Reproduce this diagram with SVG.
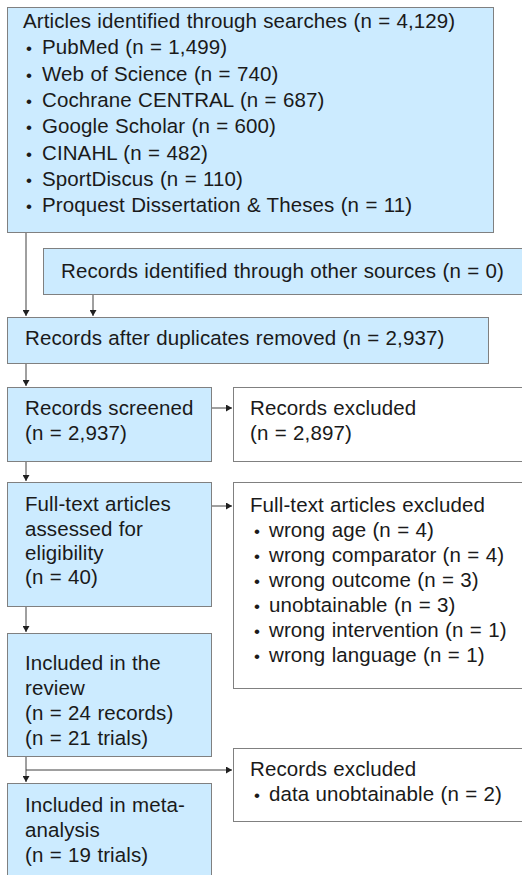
<svg xmlns="http://www.w3.org/2000/svg" width="522" height="875" viewBox="0 0 522 875">
<style>
.b{fill:#CCEBFF;stroke:#808080;stroke-width:1}
.w{fill:#FFFFFF;stroke:#808080;stroke-width:1}
text{font-family:"Liberation Sans",Arial,sans-serif;font-size:20.5px;fill:#1a1a1a;word-spacing:0.5px;letter-spacing:0.1px}
text.u{font-size:17px}
.c{stroke:#404040;stroke-width:1;fill:none}
</style>
<defs>
<marker id="ah" markerWidth="7" markerHeight="7" refX="6" refY="3.5" orient="auto" markerUnits="userSpaceOnUse">
<path d="M0,0 L6,3.5 L0,7 z" fill="#202020"/>
</marker>
</defs>
<rect width="522" height="875" fill="#FFFFFF"/>
<g id="connectors">
<line class="c" x1="26" y1="232" x2="26" y2="316" marker-end="url(#ah)"/>
<line class="c" x1="93" y1="294" x2="93" y2="316" marker-end="url(#ah)"/>
<line class="c" x1="26" y1="363" x2="26" y2="386" marker-end="url(#ah)"/>
<line class="c" x1="212" y1="408" x2="232" y2="408" marker-end="url(#ah)"/>
<line class="c" x1="26" y1="462" x2="26" y2="481" marker-end="url(#ah)"/>
<line class="c" x1="212" y1="506" x2="232" y2="506" marker-end="url(#ah)"/>
<line class="c" x1="26" y1="606" x2="26" y2="632" marker-end="url(#ah)"/>
<line class="c" x1="26" y1="756" x2="26" y2="782" marker-end="url(#ah)"/>
<line class="c" x1="26" y1="770" x2="232" y2="770" marker-end="url(#ah)"/>
</g>
<g id="n1">
<rect class="b" x="7.5" y="7.5" width="486" height="225"/>
<text x="23" y="28">Articles identified through searches (n = 4,129)</text>
<text class="u" x="26" y="54.3">•</text><text x="42" y="54.3">PubMed (n = 1,499)</text>
<text class="u" x="26" y="80.6">•</text><text x="42" y="80.6">Web of Science (n = 740)</text>
<text class="u" x="26" y="106.9">•</text><text x="42" y="106.9">Cochrane CENTRAL (n = 687)</text>
<text class="u" x="26" y="133.2">•</text><text x="42" y="133.2">Google Scholar (n = 600)</text>
<text class="u" x="26" y="159.5">•</text><text x="42" y="159.5">CINAHL (n = 482)</text>
<text class="u" x="26" y="185.8">•</text><text x="42" y="185.8">SportDiscus (n = 110)</text>
<text class="u" x="26" y="212">•</text><text x="42" y="212">Proquest Dissertation &amp; Theses (n = 11)</text>
</g>
<g id="n2">
<rect class="b" x="43.5" y="248.5" width="490" height="46"/>
<text x="61" y="278">Records identified through other sources (n = 0)</text>
</g>
<g id="n3">
<rect class="b" x="7.5" y="317.5" width="481" height="46"/>
<text x="25" y="345">Records after duplicates removed (n = 2,937)</text>
</g>
<g id="n4">
<rect class="b" x="7.5" y="387.5" width="204" height="74"/>
<text x="25" y="415">Records screened</text>
<text x="25" y="440">(n = 2,937)</text>
</g>
<g id="n5">
<rect class="w" x="233.5" y="387.5" width="300" height="74"/>
<text x="250" y="415">Records excluded</text>
<text x="250" y="440">(n = 2,897)</text>
</g>
<g id="n6">
<rect class="b" x="7.5" y="482.5" width="204" height="124"/>
<text x="25" y="511">Full-text articles</text>
<text x="25" y="536">assessed for</text>
<text x="25" y="560">eligibility</text>
<text x="25" y="584">(n = 40)</text>
</g>
<g id="n7">
<rect class="w" x="233.5" y="482.5" width="300" height="206"/>
<text x="250" y="512">Full-text articles excluded</text>
<text class="u" x="254" y="537">•</text><text x="269" y="537">wrong age (n = 4)</text>
<text class="u" x="254" y="562">•</text><text x="269" y="562">wrong comparator (n = 4)</text>
<text class="u" x="254" y="587">•</text><text x="269" y="587">wrong outcome (n = 3)</text>
<text class="u" x="254" y="612">•</text><text x="269" y="612">unobtainable (n = 3)</text>
<text class="u" x="254" y="637">•</text><text x="269" y="637">wrong intervention (n = 1)</text>
<text class="u" x="254" y="662">•</text><text x="269" y="662">wrong language (n = 1)</text>
</g>
<g id="n8">
<rect class="b" x="7.5" y="633.5" width="204" height="123"/>
<text x="25" y="670">Included in the</text>
<text x="25" y="695">review</text>
<text x="25" y="720">(n = 24 records)</text>
<text x="25" y="745">(n = 21 trials)</text>
</g>
<g id="n9">
<rect class="w" x="233.5" y="748.5" width="300" height="73"/>
<text x="250" y="776">Records excluded</text>
<text class="u" x="254" y="801">•</text><text x="269" y="801">data unobtainable (n = 2)</text>
</g>
<g id="n10">
<rect class="b" x="7.5" y="783.5" width="204" height="110"/>
<text x="25" y="812">Included in meta-</text>
<text x="25" y="837">analysis</text>
<text x="25" y="862">(n = 19 trials)</text>
</g>
</svg>
